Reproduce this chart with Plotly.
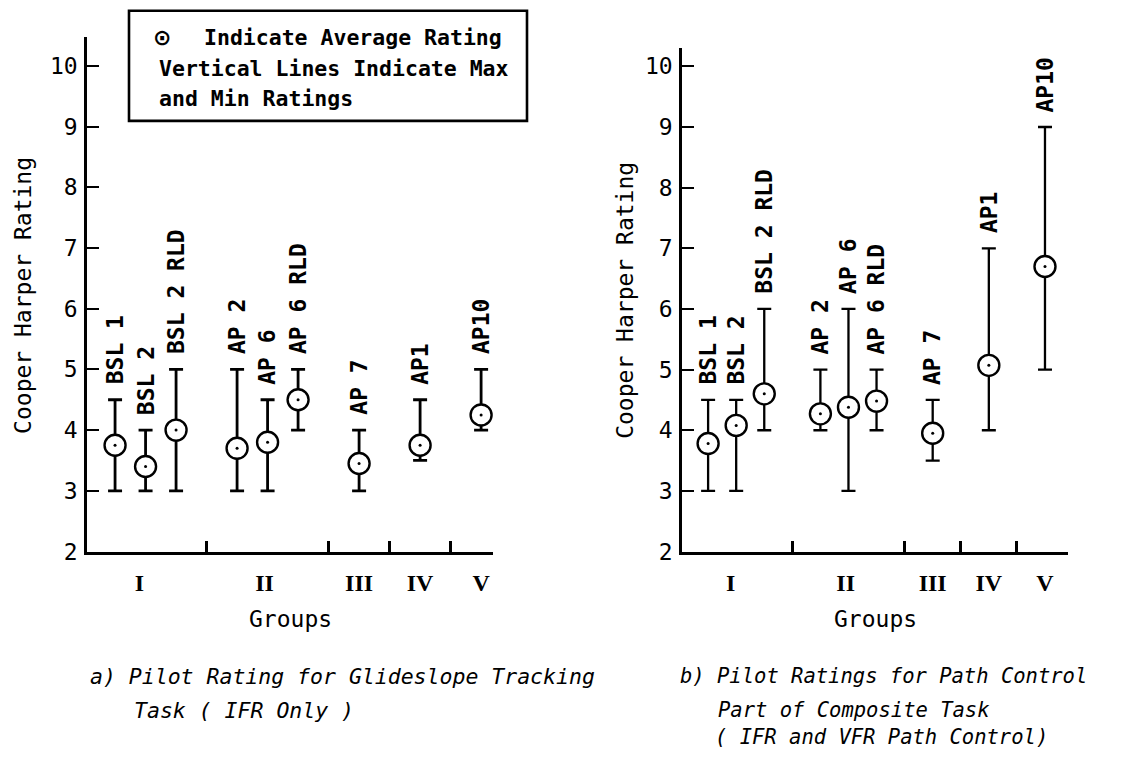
import plotly.graph_objects as go

W, H = 1129, 769

# ---- data ----
configs = ["BSL 1", "BSL 2", "BSL 2 RLD", "AP 2", "AP 6", "AP 6 RLD", "AP 7", "AP1", "AP10"]
slots = [1, 2, 3, 5, 6, 7, 9, 11, 13]
group_names = ["I", "II", "III", "IV", "V"]
group_centers = [1.8, 5.9, 9, 11, 13]
group_dividers = [4, 8, 10, 12]
y_ticks = [2, 3, 4, 5, 6, 7, 8, 9, 10]

# a) Glideslope tracking task (IFR only)
avg_a = [3.75, 3.4, 4.0, 3.7, 3.8, 4.5, 3.45, 3.75, 4.25]
max_a = [4.5, 4.0, 5.0, 5.0, 4.5, 5.0, 4.0, 4.5, 5.0]
min_a = [3.0, 3.0, 3.0, 3.0, 3.0, 4.0, 3.0, 3.5, 4.0]

# b) Path control part of composite task (IFR and VFR)
avg_b = [3.78, 4.08, 4.6, 4.27, 4.38, 4.48, 3.95, 5.07, 6.7]
max_b = [4.5, 4.5, 6.0, 5.0, 6.0, 5.0, 4.5, 7.0, 9.0]
min_b = [3.0, 3.0, 4.0, 4.0, 3.0, 4.0, 3.5, 4.0, 5.0]

legend_lines = ["Indicate Average Rating", "Vertical Lines Indicate Max", "and Min Ratings"]
caption_a = ["a) Pilot Rating for Glideslope Tracking", "Task ( IFR Only )"]
caption_b = ["b) Pilot Ratings for Path Control", "Part of Composite Task", "( IFR and VFR Path Control)"]

FONT = "DejaVu Sans Mono"


def px(x):
    return x / W


def py(y):
    return 1 - y / H


fig = go.Figure()

panels = [
    dict(avg=avg_a, mx=max_a, mn=min_a, xa="x", ya="y", thick=2.8),
    dict(avg=avg_b, mx=max_b, mn=min_b, xa="x2", ya="y2", thick=2.3),
]

for p in panels:
    plus = [m - a for m, a in zip(p["mx"], p["avg"])]
    minus = [a - m for m, a in zip(p["mn"], p["avg"])]
    fig.add_trace(go.Scatter(
        x=slots, y=p["avg"], xaxis=p["xa"], yaxis=p["ya"], mode="markers",
        marker=dict(symbol="circle", size=21, color="white", line=dict(color="black", width=2.4)),
        error_y=dict(type="data", array=plus, arrayminus=minus, symmetric=False,
                     color="black", thickness=p["thick"], width=7),
        showlegend=False, hoverinfo="skip"))
    fig.add_trace(go.Scatter(
        x=slots, y=p["avg"], xaxis=p["xa"], yaxis=p["ya"], mode="markers",
        marker=dict(symbol="circle", size=3, color="black"),
        showlegend=False, hoverinfo="skip"))
    for s, m, lab in zip(slots, p["mx"], configs):
        fig.add_annotation(x=s, y=m, xref=p["xa"], yref=p["ya"], text=lab, textangle=-90,
                           showarrow=False, xanchor="center", yanchor="bottom", yshift=13,
                           font=dict(family=FONT, size=23, color="black", weight="bold"))

axis_common_x = dict(
    showline=True, linecolor="black", linewidth=2.6, showgrid=False, zeroline=False,
    tickmode="array", tickvals=group_centers, ticktext=group_names, ticks="",
    ticklabelstandoff=8,
    tickfont=dict(family="Liberation Serif", size=24, color="black", weight="bold"),
    minor=dict(tickmode="array", tickvals=group_dividers, ticks="inside", ticklen=11,
               tickwidth=2.6, tickcolor="black", showgrid=False),
    fixedrange=True,
)
axis_common_y = dict(
    showline=True, linecolor="black", linewidth=2.6, showgrid=False, zeroline=False,
    tickmode="array", tickvals=y_ticks, ticks="inside", ticklen=12, tickwidth=2.2,
    tickcolor="black", tickfont=dict(family=FONT, size=23, color="black"),
    ticklabelstandoff=2,
    fixedrange=True,
)

y_bottom = 561
fig.update_layout(
    width=W, height=H, margin=dict(l=0, r=0, t=0, b=0),
    paper_bgcolor="white", plot_bgcolor="white", showlegend=False,
    xaxis=dict(domain=[px(87), px(493)], range=[0.08, 13.39], anchor="y", **axis_common_x),
    yaxis=dict(domain=[py(y_bottom), py(38)], range=[2, 10.47], anchor="x", **axis_common_y),
    xaxis2=dict(domain=[px(682), px(1068)], range=[0.07, 13.82], anchor="y2", **axis_common_x),
    yaxis2=dict(domain=[py(y_bottom), py(49)], range=[2, 10.3], anchor="x2", **axis_common_y),
)

# axis titles
for xc, yc in [(23, 301), (625, 306)]:
    fig.add_annotation(x=px(xc), y=py(yc), xref="paper", yref="paper", text="Cooper Harper Rating",
                       textangle=-90, showarrow=False, xanchor="center", yanchor="middle",
                       font=dict(family=FONT, size=23, color="black"))
for xc in [290, 875]:
    fig.add_annotation(x=px(xc), y=py(630), xref="paper", yref="paper", text="Groups",
                       showarrow=False, xanchor="center", yanchor="middle",
                       font=dict(family=FONT, size=23, color="black"))

# legend box
fig.add_shape(type="rect", xref="paper", yref="paper", x0=px(129), x1=px(527), y0=py(123), y1=py(11),
              line=dict(color="black", width=2.6))
fig.add_annotation(x=px(162), y=py(38), xref="paper", yref="paper", text="\u2299", showarrow=False,
                   xanchor="center", yanchor="middle",
                   font=dict(family="DejaVu Sans", size=22, color="black", weight="bold"))
for ly, txt, lx in zip([38, 70, 100], legend_lines, [202, 157, 157]):
    fig.add_annotation(x=px(lx), y=py(ly), xref="paper", yref="paper", text=txt, showarrow=False,
                       xanchor="left", yanchor="middle",
                       font=dict(family=FONT, size=21.5, color="black", weight="bold"))

# captions
for (lx, ly), txt in zip([(88, 688), (132, 723)], caption_a):
    fig.add_annotation(x=px(lx), y=py(ly), xref="paper", yref="paper", text=txt, showarrow=False,
                       xanchor="left", yanchor="middle",
                       font=dict(family=FONT, size=21.5, color="black", style="italic"))
for (lx, ly), txt in zip([(678, 688), (716, 722), (713, 750)], caption_b):
    fig.add_annotation(x=px(lx), y=py(ly), xref="paper", yref="paper", text=txt, showarrow=False,
                       xanchor="left", yanchor="middle",
                       font=dict(family=FONT, size=20.5, color="black", style="italic"))

fig.write_html("out.html")
